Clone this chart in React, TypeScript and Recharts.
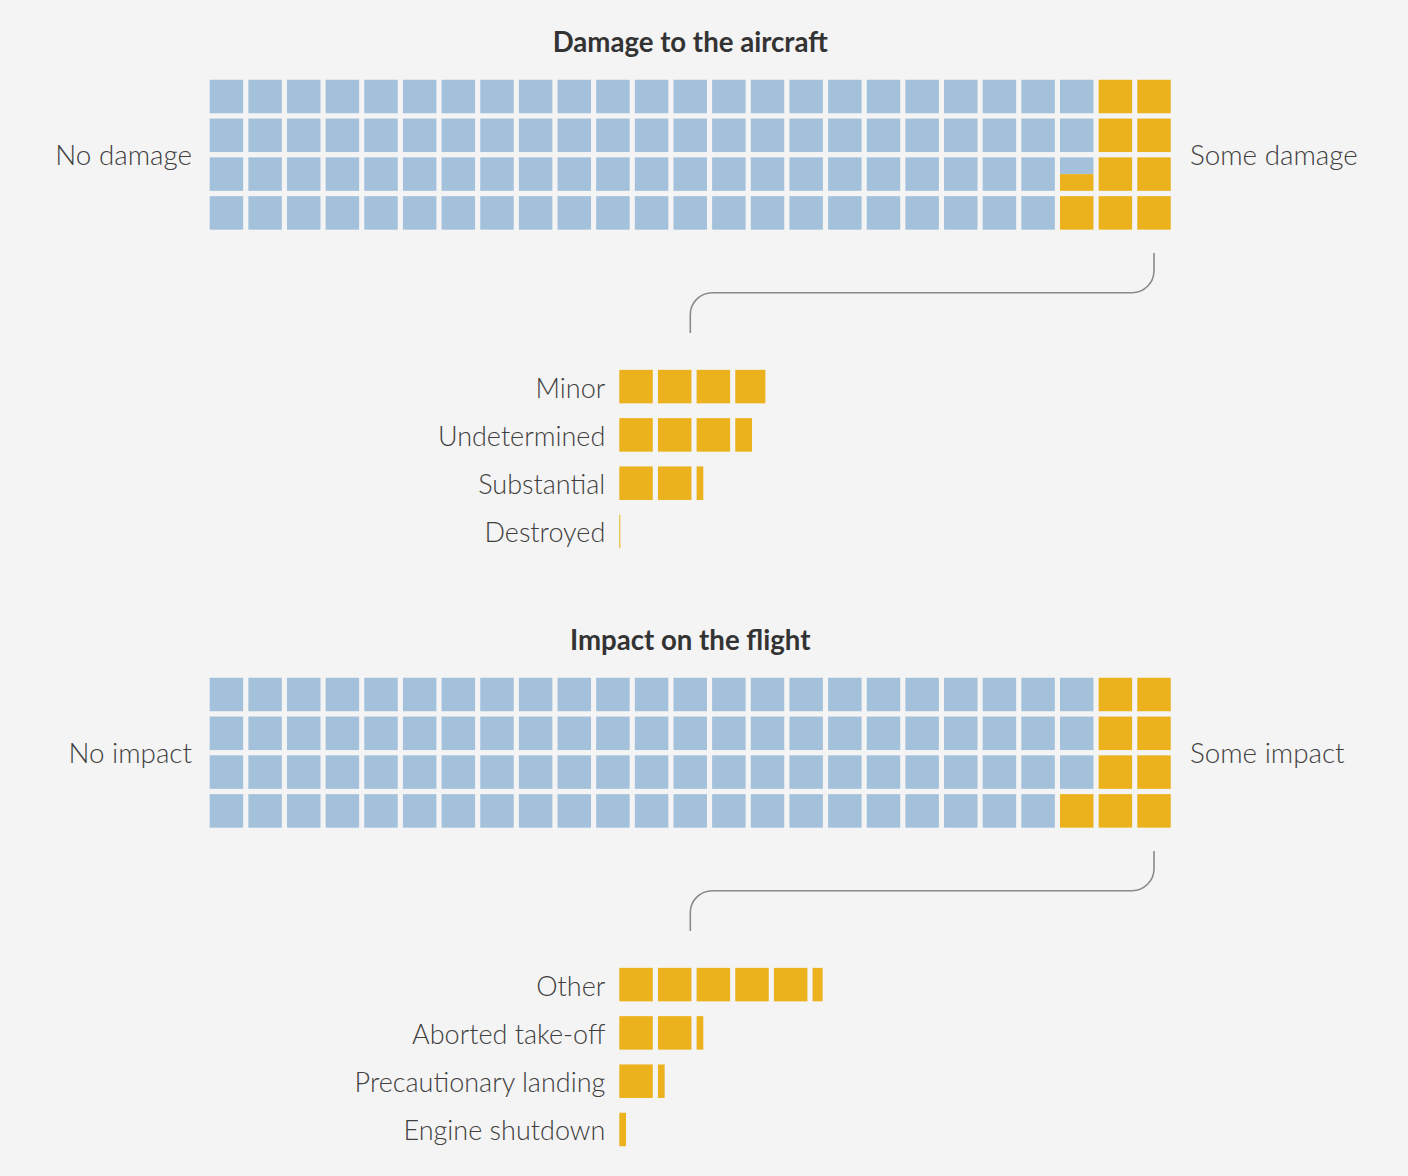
import React from 'react';
import { ScatterChart, Scatter, XAxis, YAxis, BarChart, Bar } from 'recharts';

const BLUE = '#a4c1dc';
const GOLD = '#ebb21e';
const INK = '#404040';
const FONT = 'Lato, "Noto Sans", sans-serif';

// share of reported incidents, per cent (one square = 1%)
const damageSplit = [90.5, 9.5];
const damageSplitLabels = ['No damage', 'Some damage'];
const damageKinds = ['Minor', 'Undetermined', 'Substantial', 'Destroyed'];
const damageKindValues = [3.9, 3.5, 2.2, 0.03];

const impactSplit = [91, 9];
const impactSplitLabels = ['No impact', 'Some impact'];
const impactKinds = ['Other', 'Aborted take-off', 'Precautionary landing', 'Engine shutdown'];
const impactKindValues = [5.3, 2.2, 1.2, 0.2];

const COLS = 25;
const ROWS = 4;
const PITCH_X = 38.65;
const PITCH_Y = 38.8;
const CELL = 33.5;

type WCell = { x: number; y: number; frac: number; from: 'top' | 'bottom' };

// fill column by column, top to bottom; first group from the left
function buildCells(split: number[]) {
  const first: WCell[] = [];
  const second: WCell[] = [];
  for (let i = 0; i < COLS * ROWS; i++) {
    const col = Math.floor(i / ROWS);
    const row = i % ROWS;
    const f = Math.max(0, Math.min(1, split[0] - i));
    if (f > 0) first.push({ x: col + 0.5, y: row + 0.5, frac: f, from: 'top' });
    if (f < 1) second.push({ x: col + 0.5, y: row + 0.5, frac: 1 - f, from: 'bottom' });
  }
  return [first, second];
}

const WaffleCell = (props: any) => {
  const { cx, cy, payload, fill } = props;
  if (cx == null || cy == null) return null;
  const h = CELL * payload.frac;
  const y = payload.from === 'top' ? cy - CELL / 2 : cy + CELL / 2 - h;
  return <rect x={cx - CELL / 2} y={y} width={CELL} height={h} fill={fill} />;
};

const SquaresBar = (props: any) => {
  const { x, y, width, height, payload } = props;
  const v = payload.value;
  if (!v || width == null) return null;
  const unit = width / v;
  const cw = unit * (CELL / PITCH_X);
  const parts = [];
  for (let k = 0; k < Math.ceil(v); k++) {
    const w = Math.min(1, v - k) * cw;
    parts.push(<rect key={k} x={x + k * unit} y={y} width={Math.max(w, 0.8)} height={height} fill={GOLD} />);
  }
  return <g>{parts}</g>;
};

const labelStyle: React.CSSProperties = {
  position: 'absolute',
  fontFamily: FONT,
  fontWeight: 300,
  fontSize: 27.8,
  lineHeight: '32px',
  color: INK,
  whiteSpace: 'nowrap',
};

function Section({ top, title, split, splitLabels, kinds, values }: any) {
  const [first, second] = buildCells(split);
  const kindData = kinds.map((k: string, i: number) => ({ name: k, value: values[i] }));
  const wTop = 77.1;
  const wLeft = 207.1;
  const wHeight = 240;
  return (
    <div style={{ position: 'absolute', left: 0, top, width: 1408, height: 590 }}>
      <div
        style={{
          position: 'absolute', left: 0, width: 1380.4, top: 26, textAlign: 'center',
          fontFamily: FONT, fontWeight: 700, fontSize: 27.6, lineHeight: '32px', color: '#333',
        }}
      >
        {title}
      </div>
      <div style={{ ...labelStyle, right: 1408 - 192, top: 139 }}>{splitLabels[0]}</div>
      <div style={{ ...labelStyle, left: 1190, top: 139 }}>{splitLabels[1]}</div>

      <div style={{ position: 'absolute', left: 0, top: 0 }}>
        <ScatterChart
          width={1408}
          height={wHeight}
          margin={{ top: wTop, left: wLeft, right: 1408 - wLeft - COLS * PITCH_X, bottom: wHeight - wTop - ROWS * PITCH_Y }}
        >
          <XAxis type="number" dataKey="x" domain={[0, COLS]} hide />
          <YAxis type="number" dataKey="y" domain={[0, ROWS]} reversed hide />
          <Scatter data={first} fill={BLUE} shape={WaffleCell} isAnimationActive={false} />
          <Scatter data={second} fill={GOLD} shape={WaffleCell} isAnimationActive={false} />
        </ScatterChart>
      </div>

      <svg style={{ position: 'absolute', left: 0, top: 0 }} width={1408} height={360}>
        <path
          d="M1154,253 V270.7 A22,22 0 0 1 1132,292.7 H712.3 A22,22 0 0 0 690.3,314.7 V333"
          fill="none"
          stroke="#8a8a8a"
          strokeWidth={1.6}
        />
      </svg>

      <div style={{ position: 'absolute', left: 0, top: 340 }}>
        <BarChart
          width={1408}
          height={240}
          layout="vertical"
          data={kindData}
          margin={{ top: 22.85, left: 219.3, right: 1408 - 619.3 - 10 * PITCH_X, bottom: 240 - 22.85 - 4 * 48.3 }}
        >
          <XAxis type="number" domain={[0, 10]} hide />
          <YAxis
            type="category"
            dataKey="name"
            width={400}
            axisLine={false}
            tickLine={false}
            tickSize={0}
            tickMargin={14}
            tick={{ fill: INK, fontSize: 27, fontFamily: FONT, fontWeight: 300, dy: 1 }}
          />
          <Bar dataKey="value" barSize={CELL} shape={SquaresBar} isAnimationActive={false} />
        </BarChart>
      </div>
    </div>
  );
}

export default function App() {
  return (
    <div style={{ position: 'absolute', left: 0, top: 0, width: 1408, height: 1176, background: '#f4f4f4', overflow: 'hidden' }}>
      <Section
        top={0}
        title="Damage to the aircraft"
        split={damageSplit}
        splitLabels={damageSplitLabels}
        kinds={damageKinds}
        values={damageKindValues}
      />
      <Section
        top={598.3}
        title="Impact on the flight"
        split={impactSplit}
        splitLabels={impactSplitLabels}
        kinds={impactKinds}
        values={impactKindValues}
      />
    </div>
  );
}
